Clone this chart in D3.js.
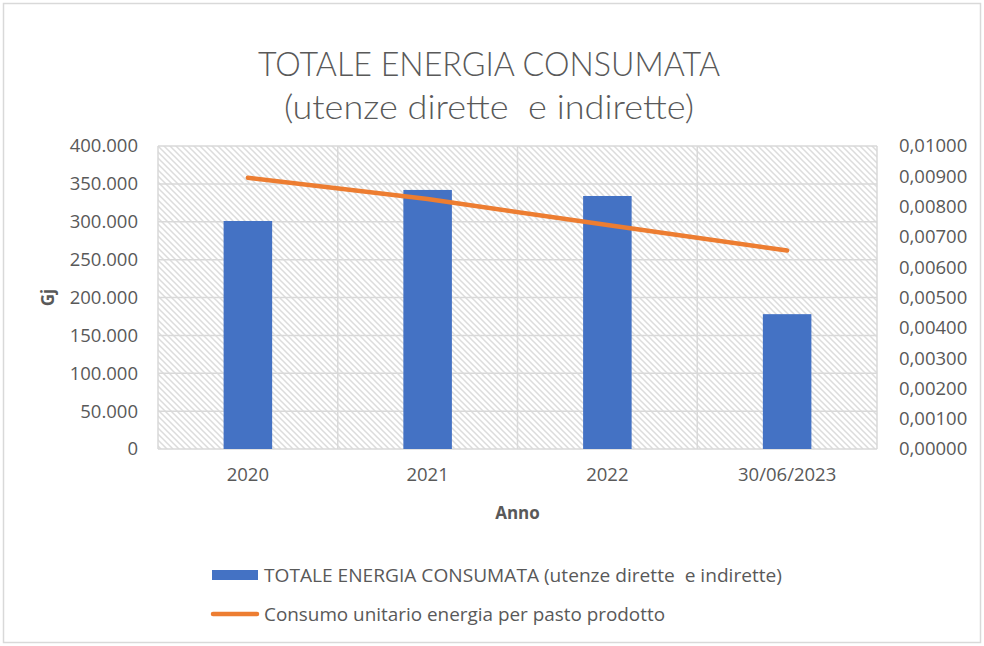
<!DOCTYPE html>
<html>
<head>
<meta charset="utf-8">
<script src="https://cdn.jsdelivr.net/npm/d3@7"></script>
<style>
  body { margin: 0; background: #fff; }
  svg { display: block; }
  text { white-space: pre; }
</style>
</head>
<body>
<div id="chart"></div>
<script>
const categories = ['2020', '2021', '2022', '30/06/2023'];
const totaleEnergia = [301000, 342000, 334000, 178000];
const consumoUnitario = [0.00895, 0.00825, 0.00739, 0.00655];
const leftTicks = [0, 50000, 100000, 150000, 200000, 250000, 300000, 350000, 400000];
const rightTicks = [0, 0.001, 0.002, 0.003, 0.004, 0.005, 0.006, 0.007, 0.008, 0.009, 0.01];

const width = 984, height = 646;
const margin = {top: 146, right: 107, bottom: 197, left: 158};
const textColor = '#595959';
const gridColor = '#d9d9d9';
const fontSize = '18.5px';

const svg = d3.select('#chart').append('svg')
    .attr('width', width)
    .attr('height', height);

// hatch pattern for plot background
const defs = svg.append('defs');
const pat = defs.append('pattern')
    .attr('id', 'hatch')
    .attr('patternUnits', 'userSpaceOnUse')
    .attr('width', 6)
    .attr('height', 6);
pat.append('rect').attr('width', 6).attr('height', 6).attr('fill', '#fff');
pat.append('path')
    .attr('d', 'M-1,-1 L7,7 M-1,5 L1,7 M5,-1 L7,1')
    .attr('stroke', '#dcdcdc')
    .attr('stroke-width', 1.5);

// outer border
svg.append('rect')
    .attr('x', 3.5).attr('y', 3.5)
    .attr('width', width - 7).attr('height', height - 7)
    .attr('fill', '#fff')
    .attr('stroke', gridColor)
    .attr('stroke-width', 1.5);

const x = d3.scaleBand()
    .domain(categories)
    .range([margin.left, width - margin.right])
    .paddingInner(0.73)
    .paddingOuter(0.365);

const y = d3.scaleLinear()
    .domain([0, 400000])
    .range([height - margin.bottom, margin.top]);

const y2 = d3.scaleLinear()
    .domain([0, 0.01])
    .range([height - margin.bottom, margin.top]);

// plot background
svg.append('rect')
    .attr('x', margin.left).attr('y', margin.top)
    .attr('width', width - margin.left - margin.right)
    .attr('height', height - margin.top - margin.bottom)
    .attr('fill', 'url(#hatch)');

// horizontal gridlines
svg.append('g')
    .selectAll('line')
    .data(leftTicks)
    .enter()
    .append('line')
    .attr('x1', margin.left).attr('x2', width - margin.right)
    .attr('y1', d => y(d)).attr('y2', d => y(d))
    .attr('stroke', gridColor)
    .attr('stroke-width', 1.5);

// vertical gridlines at category boundaries
const step = x.step();
const bounds = categories.map(c => x(c) + x.bandwidth() / 2 - step / 2).concat([width - margin.right]);
svg.append('g')
    .selectAll('line')
    .data(bounds)
    .enter()
    .append('line')
    .attr('x1', d => d).attr('x2', d => d)
    .attr('y1', margin.top).attr('y2', height - margin.bottom)
    .attr('stroke', gridColor)
    .attr('stroke-width', 1.5);

// bars
svg.append('g')
    .selectAll('rect')
    .data(categories)
    .enter()
    .append('rect')
    .attr('x', d => x(d))
    .attr('y', (d, i) => y(totaleEnergia[i]))
    .attr('width', x.bandwidth())
    .attr('height', (d, i) => y(0) - y(totaleEnergia[i]))
    .attr('fill', '#4472c4');

// line
const line = d3.line()
    .x((d, i) => x(categories[i]) + x.bandwidth() / 2)
    .y(d => y2(d));

svg.append('path')
    .datum(consumoUnitario)
    .attr('d', line)
    .attr('fill', 'none')
    .attr('stroke', '#ed7d31')
    .attr('stroke-width', 4.5)
    .attr('stroke-linecap', 'round');

const tickFont = '"Open Sans", "Noto Sans", sans-serif';
const itFmt = d3.formatLocale({decimal: ',', thousands: '.', grouping: [3], currency: ['€', '']});

// left axis
const yAxis = svg.append('g')
    .attr('transform', `translate(${margin.left},0)`)
    .call(d3.axisLeft(y).tickValues(leftTicks).tickSize(0).tickPadding(20).tickFormat(itFmt.format(',')));
yAxis.select('.domain').remove();
yAxis.selectAll('text')
    .attr('fill', textColor)
    .style('font-family', tickFont)
    .style('font-size', fontSize);

// right axis
const y2Axis = svg.append('g')
    .attr('transform', `translate(${width - margin.right},0)`)
    .call(d3.axisRight(y2).tickValues(rightTicks).tickSize(0).tickPadding(22).tickFormat(itFmt.format('.5f')));
y2Axis.select('.domain').remove();
y2Axis.selectAll('text')
    .attr('fill', textColor)
    .style('font-family', tickFont)
    .style('font-size', fontSize);

// bottom axis
const xAxis = svg.append('g')
    .attr('transform', `translate(0,${height - margin.bottom})`)
    .call(d3.axisBottom(x).tickSize(0).tickPadding(19));
xAxis.select('.domain').remove();
xAxis.selectAll('text')
    .attr('fill', textColor)
    .style('font-family', tickFont)
    .style('font-size', fontSize);

// axis titles
svg.append('text')
    .attr('x', (margin.left + width - margin.right) / 2)
    .attr('y', 519)
    .attr('text-anchor', 'middle')
    .attr('fill', textColor)
    .style('font-family', tickFont)
    .style('font-size', '17px')
    .style('font-weight', 'bold')
    .text('Anno');

svg.append('text')
    .attr('transform', `translate(54,${(margin.top + height - margin.bottom) / 2}) rotate(-90)`)
    .attr('text-anchor', 'middle')
    .attr('fill', textColor)
    .style('font-family', tickFont)
    .style('font-size', '17px')
    .style('font-weight', 'bold')
    .text('Gj');

// title
const titleFont = 'Lato, "Open Sans", sans-serif';
svg.append('text')
    .attr('x', 489).attr('y', 76)
    .attr('text-anchor', 'middle')
    .attr('fill', textColor)
    .style('font-family', titleFont)
    .style('font-weight', 300)
    .style('font-size', '34px')
    .attr('textLength', 462)
    .attr('lengthAdjust', 'spacingAndGlyphs')
    .text('TOTALE ENERGIA CONSUMATA');
svg.append('text')
    .attr('x', 489).attr('y', 119)
    .attr('text-anchor', 'middle')
    .attr('fill', textColor)
    .style('font-family', titleFont)
    .style('font-weight', 300)
    .style('font-size', '34px')
    .attr('textLength', 410)
    .attr('lengthAdjust', 'spacingAndGlyphs')
    .text('(utenze dirette  e indirette)');

// legend
const legend = svg.append('g');
legend.append('rect')
    .attr('x', 212).attr('y', 570)
    .attr('width', 46).attr('height', 10)
    .attr('fill', '#4472c4');
legend.append('text')
    .attr('x', 264).attr('y', 582)
    .attr('fill', textColor)
    .style('font-family', tickFont)
    .style('font-size', fontSize)
    .attr('textLength', 518)
    .attr('lengthAdjust', 'spacingAndGlyphs')
    .text('TOTALE ENERGIA CONSUMATA (utenze dirette  e indirette)');
legend.append('line')
    .attr('x1', 213).attr('x2', 257)
    .attr('y1', 614).attr('y2', 614)
    .attr('stroke', '#ed7d31')
    .attr('stroke-width', 4.5)
    .attr('stroke-linecap', 'round');
legend.append('text')
    .attr('x', 264).attr('y', 621)
    .attr('fill', textColor)
    .style('font-family', tickFont)
    .style('font-size', fontSize)
    .attr('textLength', 401)
    .attr('lengthAdjust', 'spacingAndGlyphs')
    .text('Consumo unitario energia per pasto prodotto');
</script>
</body>
</html>
